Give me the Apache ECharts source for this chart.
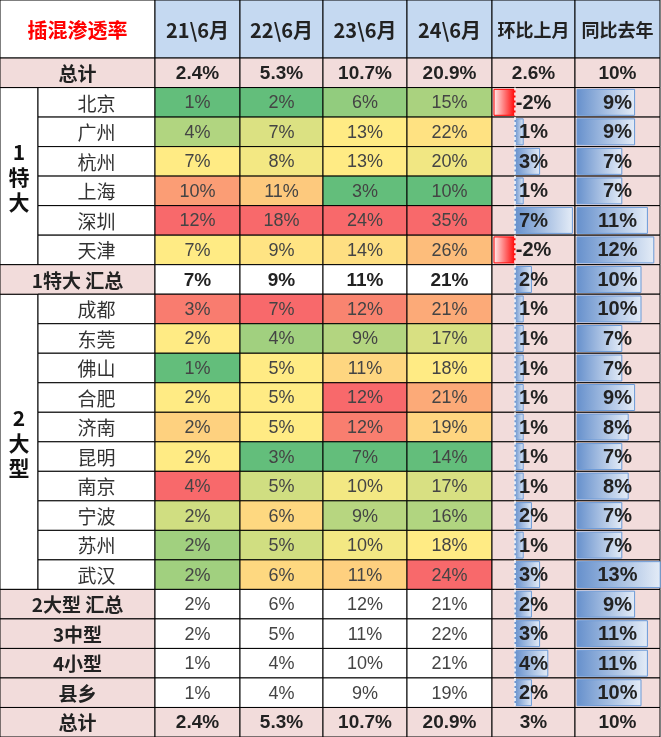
<!DOCTYPE html>
<html><head><meta charset="utf-8">
<script src="https://cdn.jsdelivr.net/npm/echarts@6/dist/echarts.min.js"></script>
<style>html,body{margin:0;padding:0;background:#fff}#c{width:661px;height:737px}</style>
</head><body><div id="c"></div>
<script>
// 表头
var title = '插混渗透率';
var headers = ['21\\6月', '22\\6月', '23\\6月', '24\\6月', '环比上月', '同比去年'];
// 行名
var rowNames = ['总计', '北京', '广州', '杭州', '上海', '深圳', '天津', '1特大 汇总',
    '成都', '东莞', '佛山', '合肥', '济南', '昆明', '南京', '宁波', '苏州', '武汉',
    '2大型 汇总', '3中型', '4小型', '县乡', '总计'];
// 各列数值(%)
var y21 = [2.4, 1, 4, 7, 10, 12, 7, 7, 3.4, 2.2, 1.2, 2.2, 2.48, 2.2, 3.6, 1.9, 1.6, 1.6, 2, 2, 1, 1, 2.4];
var y22 = [5.3, 2, 7, 8, 11, 18, 9, 9, 7.2, 4.0, 5.2, 5.2, 5.2, 3.2, 4.6, 5.5, 4.6, 5.5, 6, 5, 4, 4, 5.3];
var y23 = [10.7, 6, 13, 13, 3, 24, 14, 11, 12.0, 8.6, 10.8, 12.4, 12.1, 6.6, 10.2, 8.7, 10.2, 10.9, 12, 11, 10, 9, 10.7];
var y24 = [20.9, 15, 22, 20, 10, 35, 26, 21, 21, 17, 18, 21, 19, 14, 17, 16, 18, 24, 21, 22, 21, 19, 20.9];
var mom = [2.6, -2, 1, 3, 1, 7, -2, 2, 1, 1, 1, 1, 1, 1, 1, 2, 1, 3, 2, 3, 4, 2, 3];
var yoy = [10, 9, 9, 7, 7, 11, 12, 10, 10, 7, 7, 9, 8, 7, 8, 7, 7, 13, 9, 11, 11, 10, 10];

var colEdges = [0, 38, 155, 240, 323, 407, 492, 575, 660];
var headH = 58, rowH = 29.5;
var groups = [{name: '1\n特\n大', from: 1, to: 6}, {name: '2\n大\n型', from: 8, to: 17}];
var boldRows = [0, 7, 22];
var totalRows = [0, 22];
var PINK = '#f2dcdb', HEAD = '#c5d9f1';

function rowIn(r) {
    for (var i = 0; i < groups.length; i++) {
        if (r >= groups[i].from && r <= groups[i].to) return groups[i];
    }
    return null;
}
function mix(a, b, t) {
    var pa = [parseInt(a.substr(1, 2), 16), parseInt(a.substr(3, 2), 16), parseInt(a.substr(5, 2), 16)];
    var pb = [parseInt(b.substr(1, 2), 16), parseInt(b.substr(3, 2), 16), parseInt(b.substr(5, 2), 16)];
    return 'rgb(' + pa.map(function (v, i) { return Math.round(v + (pb[i] - v) * t); }).join(',') + ')';
}
function scaleColor(arr, g, r) {
    var vals = arr.slice(g.from, g.to + 1).slice().sort(function (a, b) { return a - b; });
    var n = vals.length, mn = vals[0], mx = vals[n - 1];
    var med = n % 2 ? vals[(n - 1) / 2] : (vals[n / 2 - 1] + vals[n / 2]) / 2;
    var v = arr[r];
    if (v <= med) return mix('#63be7b', '#ffeb84', med === mn ? 1 : (v - mn) / (med - mn));
    return mix('#ffeb84', '#f8696b', (v - med) / (mx - med));
}
function fmt(v, r) {
    return (totalRows.indexOf(r) >= 0 ? v.toFixed(1) : Math.round(v)) + '%';
}

// 单元格: [x0, x1, y0, y1, 文字, 背景, 字体, 颜色, bar类型, 值]
var cells = [];
function add(c0, c1, r0, r1, text, fill, font, color, bar, val) {
    cells.push([colEdges[c0], colEdges[c1], r0, r1, text, fill, font, color, bar || 0, val || 0]);
}
var yh = -headH / rowH;
var BF = 'bold 19px "Liberation Sans", "Noto Sans CJK SC"';
var NF = '18px "Liberation Sans Narrow", "Liberation Sans", "Noto Sans CJK SC"';
add(0, 2, yh, 0, title, '#fff', 'bold 20px "Noto Sans CJK SC"', '#ff0000');
headers.forEach(function (h, i) {
    add(i + 2, i + 3, yh, 0, h, HEAD, i < 4 ? 'bold 20px "Noto Sans CJK SC"' : 'bold 18px "Noto Sans CJK SC"', '#222');
});
groups.forEach(function (g) {
    add(0, 1, g.from, g.to + 1, g.name, '#fff', 'bold 21px "Noto Sans CJK SC"', '#111');
});
var cols = [y21, y22, y23, y24];
rowNames.forEach(function (name, r) {
    var g = rowIn(r);
    var bold = boldRows.indexOf(r) >= 0;
    var total = totalRows.indexOf(r) >= 0;
    if (g) add(1, 2, r, r + 1, name, '#fff', '19px "Noto Sans CJK SC"', '#333');
    else add(0, 2, r, r + 1, name, PINK, 'bold 19px "Noto Sans CJK SC"', '#222');
    cols.forEach(function (arr, i) {
        var fill = g ? scaleColor(arr, g, r) : (total ? PINK : '#fff');
        add(i + 2, i + 3, r, r + 1, fmt(arr[r], r), fill, bold ? BF : NF, bold ? '#222' : '#444');
    });
    add(6, 7, r, r + 1, (r === 0 ? mom[r].toFixed(1) : Math.round(mom[r])) + '%', PINK,
        total ? BF : 'bold 20px "Liberation Sans"', '#222', total ? 0 : 1, mom[r]);
    add(7, 8, r, r + 1, yoy[r] + '%', PINK,
        total ? BF : 'bold 20px "Liberation Sans"', '#222', total ? 0 : 2, yoy[r]);
});

var chart = echarts.init(document.getElementById('c'));
chart.setOption({
    animation: false,
    grid: {left: 0, top: 0, right: 0, bottom: 0},
    xAxis: {type: 'value', min: 0, max: 661, show: false},
    yAxis: {type: 'value', min: yh, max: 23, inverse: true, show: false},
    series: [{
        type: 'custom',
        data: cells,
        renderItem: function (params, api) {
            var d = cells[params.dataIndex];
            var p0 = api.coord([d[0], d[2]]), p1 = api.coord([d[1], d[3]]);
            var w = p1[0] - p0[0], h = p1[1] - p0[1];
            var ch = [{
                type: 'rect', shape: {x: p0[0], y: p0[1], width: w, height: h},
                style: {fill: d[5], stroke: '#000', lineWidth: 1}
            }];
            if (d[8]) {
                var zero = d[8] === 1 ? d[0] + 23 : d[0] + 2;
                var k = d[8] === 1 ? 8.2 : 6.4;
                var v = d[9], b0, b1;
                if (v < 0) { b0 = zero + v * 10.5; b1 = zero; } else { b0 = zero; b1 = zero + v * k; }
                var q0 = api.coord([b0, d[2] + 0.06]), q1 = api.coord([b1, d[3] - 0.06]);
                var neg = v < 0;
                ch.push({
                    type: 'rect',
                    shape: {x: q0[0], y: q0[1], width: q1[0] - q0[0], height: q1[1] - q0[1]},
                    style: {
                        fill: new echarts.graphic.LinearGradient(0, 0, 1, 0, neg ?
                            [{offset: 0, color: '#fff0f0'}, {offset: 1, color: '#ff0000'}] :
                            [{offset: 0, color: '#6690cc'}, {offset: 1, color: '#e4ecf7'}]),
                        stroke: neg ? '#ff0000' : '#6a9ad8', lineWidth: 1
                    }
                });
                if (d[8] === 1) {
                    var z0 = api.coord([zero, d[2]]), z1 = api.coord([zero, d[3]]);
                    ch.push({type: 'line', shape: {x1: z0[0], y1: z0[1], x2: z1[0], y2: z1[1]},
                        style: {stroke: '#fff', lineWidth: 1.5, lineDash: [3, 2]}});
                }
            }
            ch.push({
                type: 'text',
                style: {x: p0[0] + w / 2, y: p0[1] + h / 2 + 1, text: d[4], font: d[6], fill: d[7],
                    align: 'center', verticalAlign: 'middle', lineHeight: 25}
            });
            return {type: 'group', children: ch};
        }
    }]
});
</script>
</body></html>
